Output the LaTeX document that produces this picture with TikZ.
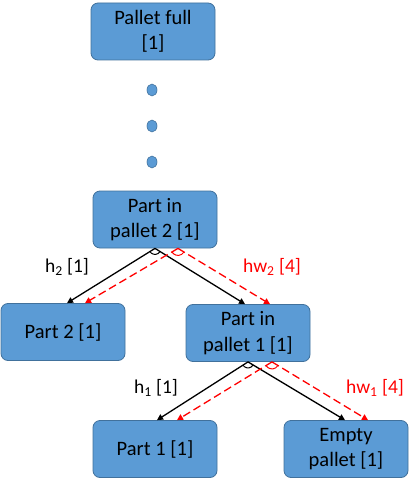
\documentclass[tikz,border=0pt]{standalone}
\usepackage{fontspec}
\setmainfont{Carlito}
\definecolor{boxblue}{HTML}{5B9BD5}
\definecolor{boxline}{HTML}{41719C}
\tikzset{
  box/.style={draw=boxline, fill=boxblue, rounded corners=7pt, line width=0.8pt,
    minimum width=124pt, minimum height=57pt, align=center, inner sep=2pt,
    font=\fontsize{20.5}{25.5}\selectfont},
  dot/.style={draw=boxline, fill=boxblue, ellipse, line width=0.6pt,
    minimum width=10pt, minimum height=12pt, inner sep=0pt},
  harrow/.style={line width=1.3pt, -{Triangle[length=6pt,width=6pt]}},
  hwarrow/.style={red, line width=1.3pt, dash pattern=on 8pt off 4pt,
    -{Triangle[length=6pt,width=6pt]}},
  lbl/.style={font=\fontsize{19.5}{24}\selectfont},
}
\usetikzlibrary{arrows.meta,shapes.geometric}
\begin{document}
\begin{tikzpicture}[x=1pt,y=1pt]
  \useasboundingbox (0,0) rectangle (419,-486);
  % states
  \node[box] (full) at (153,-31.5) {Pallet full\\{[1]}};
  \node[dot] (d1) at (152,-90) {};
  \node[dot] (d2) at (152,-126) {};
  \node[dot] (d3) at (152,-162) {};
  \node[box] (pp2) at (155,-219.5) {Part in\\pallet 2 [1]};
  \node[box] (pt2) at (63,-332) {Part 2 [1]};
  \node[box] (pp1) at (248,-333) {Part in\\pallet 1 [1]};
  \node[box] (pt1) at (155,-449) {Part 1 [1]};
  \node[box] (empty) at (346,-449) {Empty\\pallet [1]};
  % end points of the hw arrows
  \coordinate (pp2r) at ([xshift=23pt]pp2.south);
  \coordinate (pp1r) at ([xshift=24pt]pp1.south);
  \coordinate (pt2r) at ([xshift=22pt]pt2.north);
  \coordinate (pp1t) at ([xshift=22pt]pp1.north);
  \coordinate (pt1r) at ([xshift=22pt]pt1.north);
  \coordinate (emptyr) at ([xshift=22pt]empty.north);
  % h arrows
  \draw[harrow] (pp2.south) -- ([xshift=4pt]pt2.north);
  \draw[harrow] (pp2.south) -- ([xshift=-3pt]pp1.north);
  \draw[line width=1pt] ([shift={(210:6pt)}]pp2.south) arc (210:330:6pt);
  \draw[harrow] (pp1.south) -- ([xshift=2pt]pt1.north);
  \draw[harrow] (pp1.south) -- ([xshift=-1pt]empty.north);
  \draw[line width=1pt] ([shift={(212:6pt)}]pp1.south) arc (212:330:6pt);
  % hw arrows
  \draw[hwarrow] (pp2r) -- (pt2r);
  \draw[hwarrow] (pp2r) -- (pp1t);
  \draw[red, line width=1pt] ([shift={(210:7pt)}]pp2r) arc (210:330:7pt);
  \draw[hwarrow] (pp1r) -- (pt1r);
  \draw[hwarrow] (pp1r) -- (emptyr);
  \draw[red, line width=1pt] ([shift={(211:7pt)}]pp1r) arc (211:330:7pt);
  % labels
  \node[lbl] (h2) at (67,-267) {h\textsubscript{2} [1]};
  \node[lbl, red] (hw2) at (272,-267) {hw\textsubscript{2} [4]};
  \node[lbl] (h1) at (156,-388) {h\textsubscript{1} [1]};
  \node[lbl, red] (hw1) at (375,-388) {hw\textsubscript{1} [4]};
\end{tikzpicture}
\end{document}
